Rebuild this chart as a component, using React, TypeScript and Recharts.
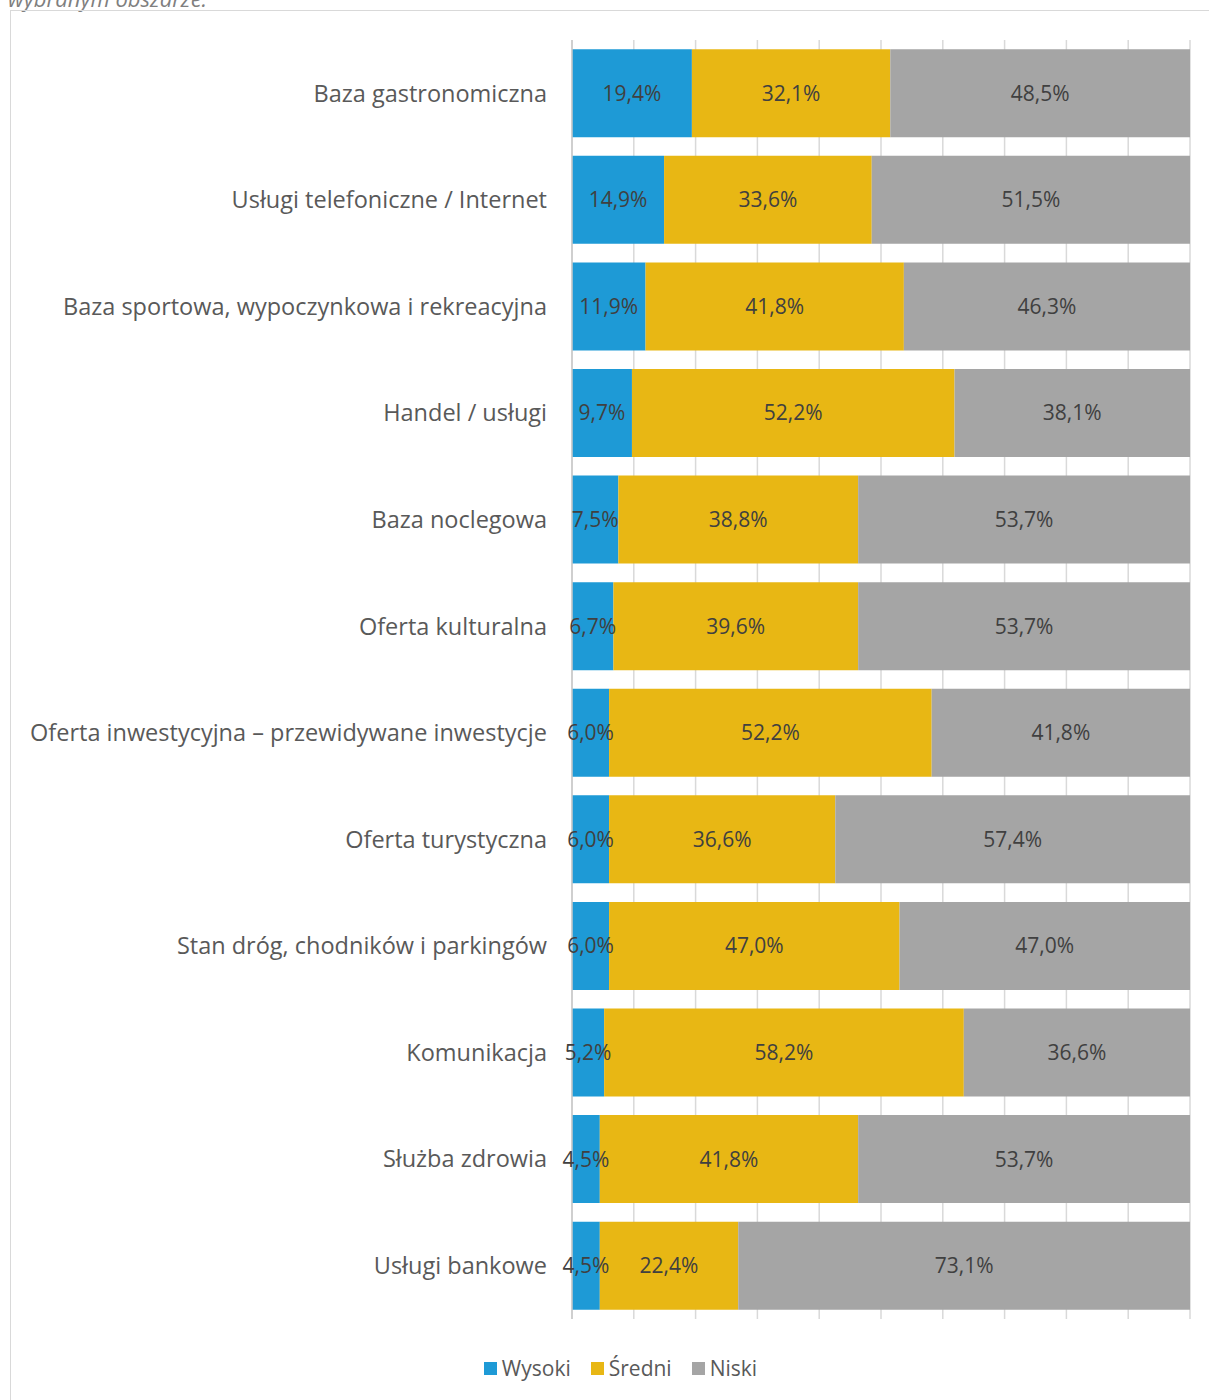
import { Bar, BarChart, CartesianGrid, LabelList, Legend, XAxis, YAxis } from "recharts";

const CATEGORIES = [
  "Baza gastronomiczna",
  "Usługi telefoniczne / Internet",
  "Baza sportowa, wypoczynkowa i rekreacyjna",
  "Handel / usługi",
  "Baza noclegowa",
  "Oferta kulturalna",
  "Oferta inwestycyjna – przewidywane inwestycje",
  "Oferta turystyczna",
  "Stan dróg, chodników i parkingów",
  "Komunikacja",
  "Służba zdrowia",
  "Usługi bankowe",
];

const WYSOKI = [19.4, 14.9, 11.9, 9.7, 7.5, 6.7, 6.0, 6.0, 6.0, 5.2, 4.5, 4.5];
const SREDNI = [32.1, 33.6, 41.8, 52.2, 38.8, 39.6, 52.2, 36.6, 47.0, 58.2, 41.8, 22.4];
const NISKI = [48.5, 51.5, 46.3, 38.1, 53.7, 53.7, 41.8, 57.4, 47.0, 36.6, 53.7, 73.1];

const X_TICKS = [0, 10, 20, 30, 40, 50, 60, 70, 80, 90, 100];

const SERIES = [
  { key: "wysoki", name: "Wysoki", color: "#1e9ad6" },
  { key: "sredni", name: "Średni", color: "#e8b714" },
  { key: "niski", name: "Niski", color: "#a5a5a5" },
];

const data = CATEGORIES.map((name, i) => ({
  name,
  wysoki: WYSOKI[i],
  sredni: SREDNI[i],
  niski: NISKI[i],
}));

const fmt = (v: unknown) => `${Number(v).toFixed(1).replace(".", ",")}%`;

const labelStyle = { fill: "#404040", fontSize: 21 };

function LegendContent() {
  return (
    <div style={{ display: "flex", justifyContent: "center", gap: 20, paddingLeft: 32 }}>
      {SERIES.map((s) => (
        <div key={s.key} style={{ display: "flex", alignItems: "center", gap: 5 }}>
          <span style={{ width: 13, height: 13, background: s.color, display: "inline-block" }} />
          <span style={{ color: "#595959", fontSize: 21 }}>{s.name}</span>
        </div>
      ))}
    </div>
  );
}

export default function App() {
  return (
    <div
      style={{
        position: "absolute",
        left: 0,
        top: 0,
        width: 1209,
        height: 1400,
        overflow: "hidden",
        background: "#fff",
        fontFamily: "'Open Sans', sans-serif",
      }}
    >
      <div
        style={{
          position: "absolute",
          left: 8,
          top: -17,
          fontStyle: "italic",
          fontSize: 22,
          color: "#7f7f7f",
        }}
      >
        wybranym obszarze.
      </div>
      <div
        style={{
          position: "absolute",
          left: 10,
          top: 10,
          width: 1220,
          height: 1420,
          border: "1px solid #d9d9d9",
        }}
      />
      <div style={{ position: "absolute", left: 0, top: 0 }}>
        <BarChart
          width={1209}
          height={1400}
          data={data}
          layout="vertical"
          margin={{ top: 40, right: 19, bottom: 51, left: 0 }}
          barCategoryGap="8.7%"
        >
          <CartesianGrid horizontal={false} stroke="#d9d9d9" strokeWidth={1.5} />
          <XAxis type="number" domain={[0, 100]} ticks={X_TICKS} hide />
          <YAxis
            type="category"
            dataKey="name"
            width={572}
            axisLine={{ stroke: "#c8c8c8", strokeWidth: 1.5 }}
            tickLine={false}
            tickMargin={19}
            tick={{ fill: "#595959", fontSize: 23.5 }}
            interval={0}
          />
          <Legend
            content={<LegendContent />}
            wrapperStyle={{ position: "absolute", left: 0, width: 1209, top: 1354, height: 30 }}
          />
          {SERIES.map((s) => (
            <Bar key={s.key} dataKey={s.key} name={s.name} stackId="a" fill={s.color} isAnimationActive={false}>
              <LabelList dataKey={s.key} position="center" formatter={fmt} style={labelStyle} />
            </Bar>
          ))}
        </BarChart>
      </div>
    </div>
  );
}
